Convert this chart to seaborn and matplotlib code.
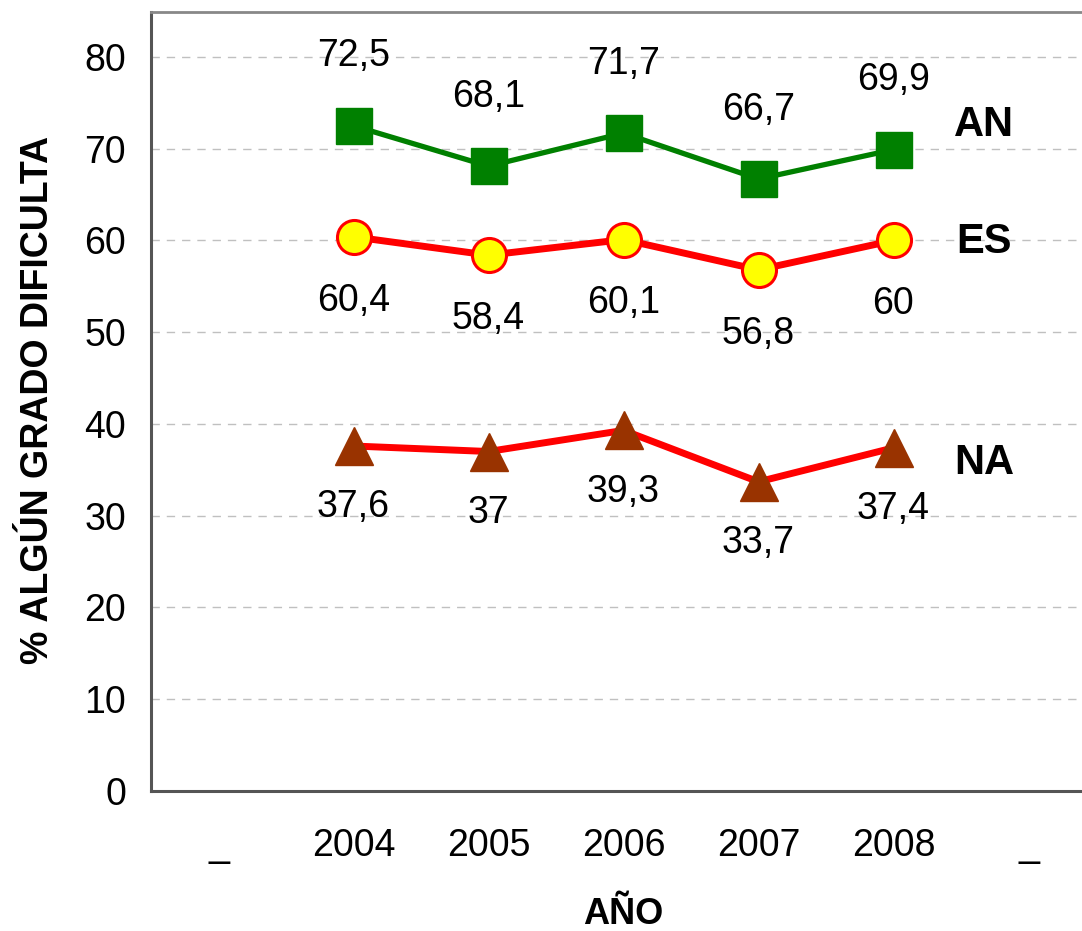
import matplotlib
matplotlib.use("Agg")
import matplotlib.pyplot as plt
import seaborn as sns
import pandas as pd
import numpy as np

categories = ["_", "2004", "2005", "2006", "2007", "2008", "_"]
years = ["2004", "2005", "2006", "2007", "2008"]
an_values = [72.5, 68.1, 71.7, 66.7, 69.9]
es_values = [60.4, 58.4, 60.1, 56.8, 60.0]
na_values = [37.6, 37.0, 39.3, 33.7, 37.4]
an_labels = ["72,5", "68,1", "71,7", "66,7", "69,9"]
es_labels = ["60,4", "58,4", "60,1", "56,8", "60"]
na_labels = ["37,6", "37", "39,3", "33,7", "37,4"]

sns.set_style("white")
plt.rcParams['font.family'] = ['Liberation Sans', 'DejaVu Sans']
plt.rcParams['text.color'] = 'black'
plt.rcParams['axes.labelcolor'] = 'black'
plt.rcParams['xtick.color'] = 'black'
plt.rcParams['ytick.color'] = 'black'

fig = plt.figure(figsize=(10.82, 9.31), dpi=100)
W, H = 1082, 931
left, right, top, bottom = 151, 1096, 12, 791
ax = fig.add_axes([left / W, 1 - bottom / H, (right - left) / W, (bottom - top) / H])

xpos = [categories.index(y) for y in years]
df = pd.DataFrame({"x": xpos * 3,
                   "v": an_values + es_values + na_values,
                   "s": ["AN"] * 5 + ["ES"] * 5 + ["NA"] * 5})

styles = {
    "AN": dict(color="#008000", lw=3.8, marker="s", ms=26.5, mfc="#008000", mec="#008000", mew=1),
    "ES": dict(color="#ff0000", lw=5.0, marker="o", ms=24.5, mfc="#ffff00", mec="#ff0000", mew=2.2),
    "NA": dict(color="#ff0000", lw=5.0, marker="^", ms=27.5, mfc="#993300", mec="#993300", mew=1),
}
for s in ["NA", "ES", "AN"]:
    st = styles[s]
    sub = df[df.s == s]
    sns.lineplot(data=sub, x="x", y="v", ax=ax, color=st["color"], linewidth=st["lw"],
                 marker=st["marker"], markersize=st["ms"], markerfacecolor=st["mfc"],
                 markeredgecolor=st["mec"], markeredgewidth=st["mew"], legend=False,
                 zorder=3, clip_on=False)

ax.set_xlim(-0.5, 6.5)
ax.set_ylim(0, 84.9)
ax.set_yticks(np.arange(0, 81, 10))
ax.set_xticks(range(len(categories)))
ax.set_xticklabels(categories)
ax.set_xticks(np.arange(-0.5, 7, 1), minor=True)
ax.tick_params(axis="x", which="major", length=0, pad=27, labelsize=27)
ax.tick_params(axis="x", which="minor", length=10, width=1.2, color="#333333", direction="out")
ax.tick_params(axis="y", length=10, width=1.2, color="#333333", direction="out", labelsize=27, pad=8)
ax.yaxis.grid(True, linestyle=(0, (6, 5)), color="#c0c0c0", linewidth=1.0)
ax.set_axisbelow(True)

for sp in ["left", "bottom"]:
    ax.spines[sp].set_color("#555555")
    ax.spines[sp].set_linewidth(2.2)
ax.spines["top"].set_color("#888888")
ax.spines["top"].set_linewidth(2.0)
ax.spines["right"].set_visible(False)

ax.set_xlabel("AÑO", fontsize=26, fontweight="bold", va="center")
ax.set_ylabel("% ALGÚN GRADO DIFICULTA", fontsize=27, fontweight="bold", va="center")
ax.xaxis.set_label_coords((623 - left) / (right - left), -(915 - bottom) / (bottom - top))
ax.yaxis.set_label_coords(-(151 - 38) / (right - left), (791 - 400) / (bottom - top))

for vals, labs, dy in [(an_values, an_labels, 50), (es_values, es_labels, -46), (na_values, na_labels, -44)]:
    for x, v, t in zip(xpos, vals, labs):
        ax.annotate(t, (x, v), xytext=(0, dy), textcoords="offset points",
                    ha="center", va="center", fontsize=27)

for name, yv in [("AN", 72.6), ("ES", 59.8), ("NA", 35.8)]:
    ax.text(5.67, yv, name, fontsize=30, fontweight="bold", ha="center", va="center")

fig.savefig("out.png", dpi=100)
